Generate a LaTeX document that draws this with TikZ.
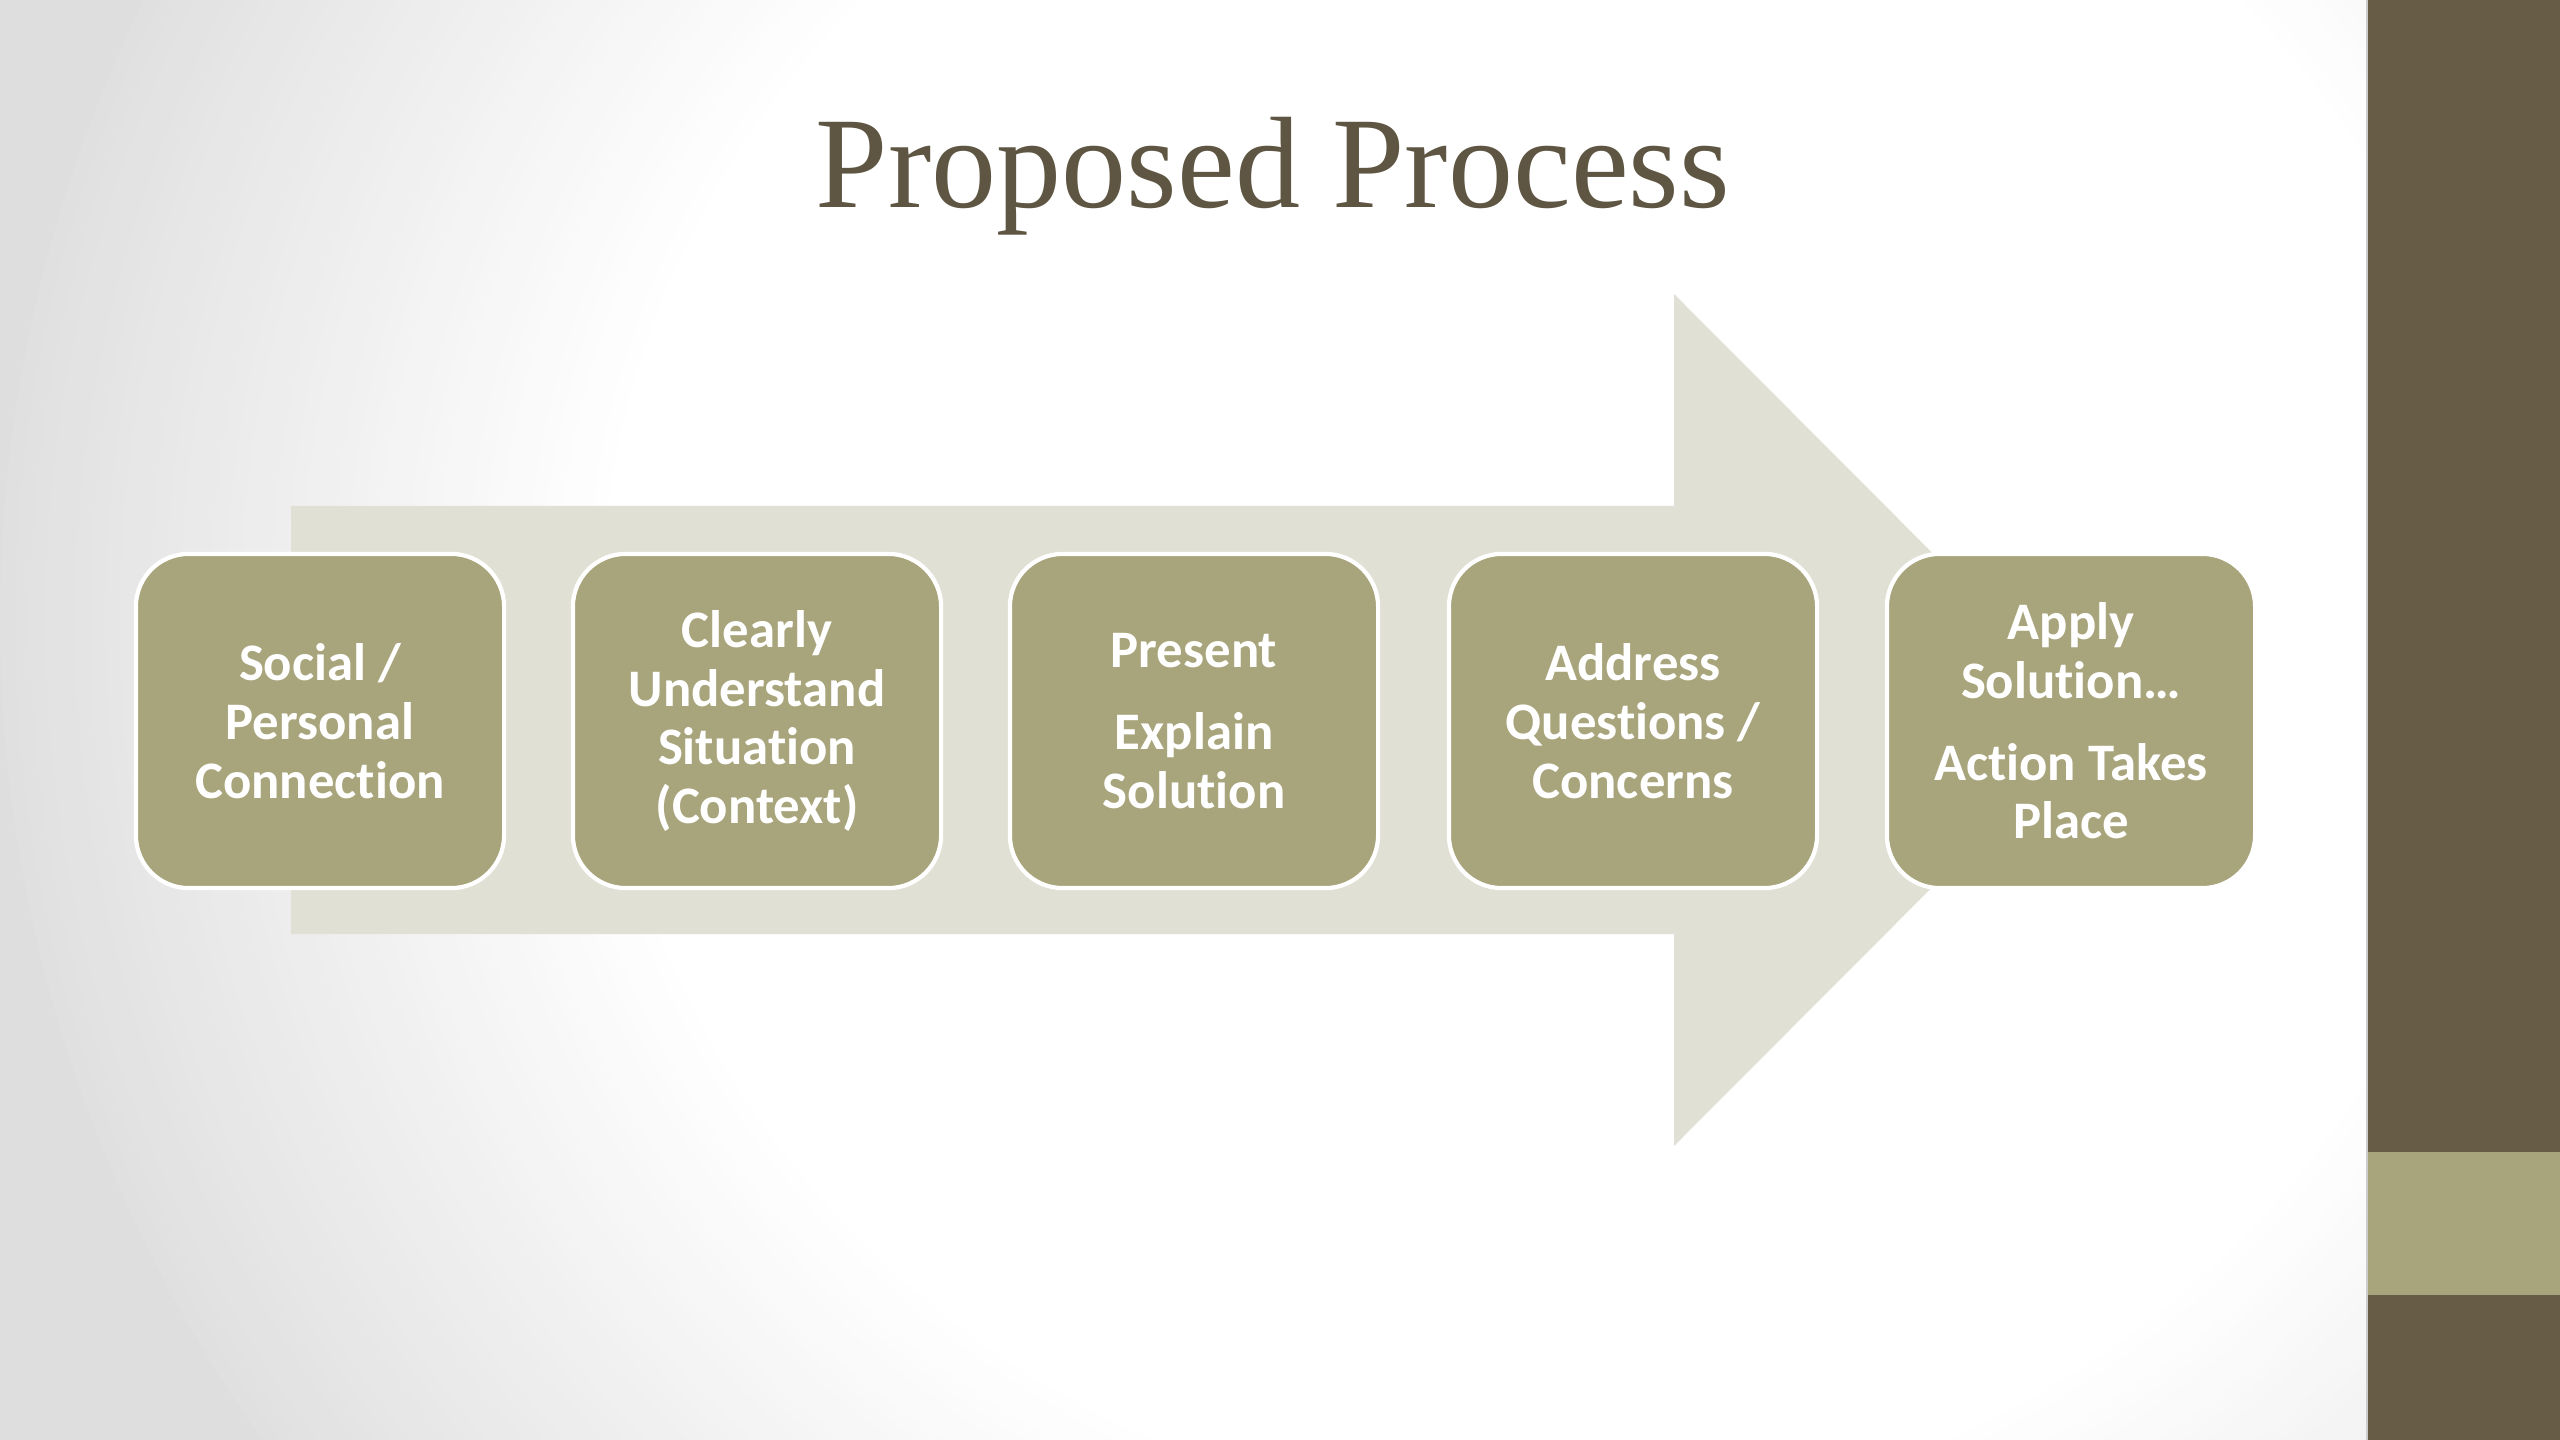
\documentclass[tikz,border=0pt]{standalone}
\usepackage{fontspec}
\setmainfont{Liberation Serif}
\newfontfamily\bodyfont[Ligatures=NoCommon]{Carlito}
\usepackage{tikz}
\usetikzlibrary{positioning}
\definecolor{boxolive}{HTML}{A8A47B}
\definecolor{arrowgray}{HTML}{E0E0D5}
\definecolor{bardark}{HTML}{675C45}
\definecolor{titlebrown}{HTML}{5E5542}

\begin{document}
\begin{tikzpicture}[
    x=0.01cm, y=-0.01cm,
    stepbox/.style={draw=white, line width=1.2pt, fill=boxolive, rounded corners=15pt,
                    minimum width=3.68cm, minimum height=3.34cm, align=center, text=white,
                    font=\bodyfont\bfseries\fontsize{15}{16.7}\selectfont}
]
    \useasboundingbox (0,0) rectangle (2560,1440);

    % Background vignette
    \begin{scope}
        \clip (0,0) rectangle (2367,1440);
        \fill[black!13] (0,0) rectangle (2367,1440);
        \foreach \k in {0,...,40} {
            \pgfmathsetmacro\gr{12*(1-\k/40)}
            \fill[black!\gr] (1550,620) ellipse ({1550-15*\k} and {0.95*(1550-15*\k)});
        }
    \end{scope}
    \fill[bardark] (2367,0) rectangle (2560,1440);
    \fill[boxolive] (2367,1152) rectangle (2560,1295);
    \draw[black!20, line width=0.5pt] (2367,0) -- (2367,1440);

    % Title
    \node[anchor=base, text=titlebrown, font=\fontsize{37}{40}\selectfont] (title) at (1273,208) {Proposed Process};

    % Big arrow
    \fill[arrowgray] (291,506) -- (1674,506) -- (1674,294) -- (2099,720)
        -- (1674,1146) -- (1674,934) -- (291,934) -- cycle;

    % Process steps
    \node[stepbox] (s1) at (320,721) {Social /\\Personal\\Connection};
    \node[stepbox] (s2) at (757,721) {Clearly\\Understand\\Situation\\(Context)};
    \node[stepbox] (s3) at (1194,721) {Present\\[6.5pt]Explain\\Solution};
    \node[stepbox] (s4) at (1633,721) {Address\\Questions /\\Concerns};
    \node[stepbox] (s5) at (2071,721) {Apply\\Solution…\\[6.5pt]Action Takes\\Place};
\end{tikzpicture}
\end{document}
